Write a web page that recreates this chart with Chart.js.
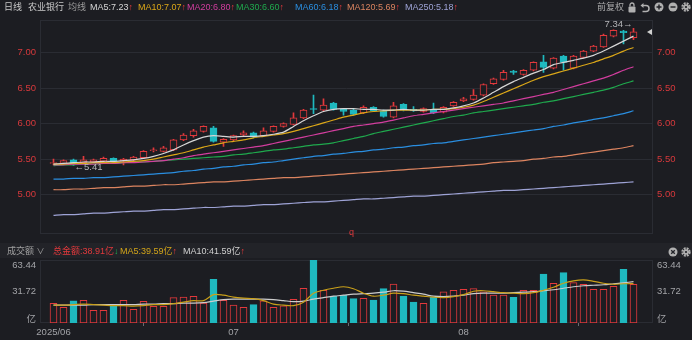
<!DOCTYPE html>
<html>
<head>
<meta charset="utf-8">
<script src="https://cdn.jsdelivr.net/npm/chart.js@4.4.1/dist/chart.umd.min.js"></script>
<style>
  body { margin:0; background:#1c1d22; width:692px; height:340px; overflow:hidden; position:relative;
         font-family:"Liberation Sans","Noto Sans CJK SC",sans-serif; }
  .t { position:absolute; font-size:9px; line-height:12px; white-space:nowrap; }
  .up { color:#e3393c; }
  .dn { color:#1fae4f; }
  canvas { position:absolute; left:0; }
  #kline { top:0; }
  #vol { top:256px; }
  #volbar { position:absolute; left:0; top:243px; width:692px; height:15px; background:#222328; }
  svg { position:absolute; }
</style>
</head>
<body>
<div id="volbar"></div>
<canvas id="kline" width="692" height="244"></canvas>
<canvas id="vol" width="692" height="84"></canvas>
<div id="labels"></div>

<script>
// daily candles, Jun - Aug
var opens = [5.44,5.44,5.49,5.45,5.46,5.47,5.51,5.47,5.49,5.52,
             5.62,5.61,5.63,5.77,5.83,5.89,5.94,5.74,5.77,5.84,
             5.87,5.83,5.89,5.96,5.99,6.08,6.21,6.19,6.29,6.20,
             6.19,6.15,6.23,6.18,6.09,6.27,6.20,6.17,6.20,6.16,
             6.25,6.32,6.34,6.40,6.56,6.62,6.74,6.69,6.75,6.87,
             6.78,6.95,6.78,6.93,7.02,7.08,7.23,7.30,7.21];
var highs = [5.50,5.49,5.50,5.54,5.50,5.53,5.52,5.51,5.54,5.62,
             5.66,5.68,5.78,5.86,5.92,5.97,5.96,5.79,5.84,5.90,
             5.88,5.94,5.97,6.01,6.15,6.20,6.40,6.35,6.30,6.21,
             6.20,6.25,6.24,6.19,6.30,6.28,6.24,6.22,6.29,6.24,
             6.31,6.37,6.48,6.56,6.64,6.75,6.75,6.76,6.87,6.96,
             6.93,6.96,6.96,7.03,7.10,7.26,7.32,7.31,7.34];
var lows = [5.42,5.43,5.41,5.44,5.45,5.46,5.46,5.42,5.48,5.51,
            5.60,5.60,5.62,5.76,5.81,5.88,5.74,5.68,5.76,5.83,
            5.80,5.82,5.88,5.95,5.98,6.07,6.14,6.18,6.19,6.12,
            6.12,6.14,6.17,6.09,6.08,6.18,6.17,6.16,6.14,6.15,
            6.24,6.31,6.33,6.39,6.55,6.61,6.69,6.68,6.74,6.72,
            6.77,6.75,6.77,6.92,7.01,7.07,7.22,7.12,7.18];
var closes = [5.45,5.48,5.45,5.49,5.49,5.51,5.47,5.50,5.53,5.61,
              5.63,5.66,5.77,5.84,5.90,5.96,5.75,5.78,5.83,5.87,
              5.81,5.90,5.96,6.00,6.08,6.19,6.20,6.26,6.20,6.17,
              6.13,6.23,6.18,6.10,6.25,6.19,6.18,6.21,6.15,6.23,
              6.30,6.35,6.40,6.55,6.63,6.72,6.72,6.75,6.86,6.79,
              6.92,6.86,6.95,7.02,7.09,7.24,7.31,7.28,7.29];

// turnover, 亿
var volumes = [19.8,15.8,22.2,22.8,12.8,12.8,17.4,22.8,13.8,21.8,
               16.8,16.8,25.5,26.2,26.9,20.1,44.0,22.8,18.1,15.8,
               18.5,22.2,15.8,17.4,23.9,34.9,63.44,32.9,27.2,27.9,
               24.5,24.8,23.2,34.6,39.3,27.2,21.1,19.8,25.9,31.5,
               32.9,33.9,34.6,31.5,28.2,28.2,25.9,32.9,32.9,49.3,
               40.0,50.7,40.6,39.0,33.9,33.9,37.0,54.1,38.91];

// moving averages
var ma5 = [5.43,5.44,5.45,5.46,5.46,5.47,5.47,5.48,5.49,5.51,
           5.54,5.58,5.63,5.70,5.76,5.81,5.83,5.82,5.81,5.82,
           5.82,5.83,5.85,5.88,5.96,6.04,6.11,6.17,6.20,6.21,
           6.21,6.20,6.20,6.19,6.19,6.20,6.19,6.19,6.20,6.20,
           6.22,6.25,6.29,6.36,6.44,6.52,6.59,6.65,6.71,6.76,
           6.83,6.86,6.89,6.92,6.96,7.02,7.09,7.16,7.23];
var ma10 = [5.43,5.43,5.44,5.44,5.45,5.45,5.45,5.46,5.47,5.48,
            5.50,5.53,5.56,5.59,5.63,5.67,5.70,5.73,5.75,5.77,
            5.80,5.82,5.84,5.86,5.89,5.93,5.97,6.01,6.05,6.09,
            6.12,6.15,6.17,6.18,6.19,6.19,6.19,6.19,6.20,6.20,
            6.21,6.23,6.26,6.31,6.37,6.43,6.49,6.55,6.61,6.66,
            6.70,6.74,6.78,6.82,6.86,6.91,6.96,7.02,7.07];
var ma20 = [5.42,5.42,5.43,5.43,5.43,5.44,5.44,5.45,5.45,5.46,
            5.47,5.48,5.50,5.52,5.55,5.57,5.59,5.61,5.63,5.65,
            5.67,5.69,5.72,5.75,5.78,5.81,5.84,5.87,5.90,5.93,
            5.96,5.98,6.00,6.02,6.05,6.08,6.11,6.13,6.15,6.17,
            6.19,6.21,6.23,6.25,6.27,6.29,6.32,6.35,6.38,6.41,
            6.44,6.48,6.52,6.56,6.60,6.64,6.69,6.75,6.80];
var ma30 = [5.41,5.42,5.42,5.43,5.43,5.44,5.44,5.45,5.46,5.46,
            5.47,5.48,5.49,5.50,5.51,5.52,5.53,5.54,5.56,5.57,
            5.59,5.61,5.63,5.64,5.66,5.68,5.70,5.71,5.73,5.76,
            5.79,5.82,5.86,5.89,5.92,5.95,5.98,6.01,6.04,6.07,
            6.10,6.12,6.15,6.17,6.19,6.21,6.23,6.25,6.27,6.30,
            6.32,6.35,6.38,6.41,6.44,6.47,6.51,6.56,6.60];
var ma60 = [5.22,5.22,5.23,5.23,5.24,5.24,5.25,5.26,5.27,5.28,
            5.29,5.30,5.31,5.33,5.34,5.36,5.37,5.39,5.40,5.42,
            5.43,5.45,5.46,5.48,5.50,5.52,5.54,5.55,5.57,5.58,
            5.60,5.61,5.63,5.64,5.66,5.67,5.69,5.70,5.72,5.73,
            5.75,5.77,5.79,5.81,5.83,5.85,5.87,5.89,5.91,5.93,
            5.96,5.98,6.01,6.03,6.06,6.08,6.11,6.14,6.18];
var ma120 = [5.07,5.07,5.08,5.08,5.09,5.10,5.10,5.11,5.12,5.12,
             5.13,5.14,5.14,5.15,5.16,5.17,5.18,5.18,5.19,5.20,
             5.21,5.22,5.23,5.24,5.24,5.25,5.26,5.27,5.28,5.29,
             5.30,5.31,5.32,5.33,5.34,5.35,5.36,5.37,5.38,5.39,
             5.40,5.41,5.42,5.43,5.45,5.46,5.47,5.48,5.50,5.51,
             5.53,5.54,5.56,5.58,5.60,5.62,5.64,5.66,5.69];
var ma250 = [4.71,4.72,4.72,4.73,4.74,4.74,4.75,4.76,4.77,4.77,
             4.78,4.79,4.79,4.80,4.81,4.82,4.82,4.83,4.84,4.84,
             4.85,4.86,4.86,4.87,4.88,4.89,4.90,4.90,4.91,4.92,
             4.93,4.94,4.94,4.95,4.96,4.97,4.98,4.98,4.99,5.00,
             5.01,5.02,5.03,5.04,5.05,5.06,5.06,5.07,5.08,5.09,
             5.10,5.11,5.12,5.13,5.14,5.15,5.16,5.17,5.18];
var volMa5 = [18,18,18.5,19,18.5,18,17.5,17.5,17,17.5,
              18.5,18.5,19.5,21,22.5,22.5,28.5,28,26,25,
              24.5,22.5,19,18,17.5,21,30,33,35,36.5,
              34.5,30,27,28,30,29.5,28,27,26,25.5,
              26.5,28.5,32,32.5,31.5,30.5,30,29.5,30.5,33,
              36,40,42.5,43.5,42,40,39,39.5,39.59];
var volMa10 = [18,18,18,18,18.5,18.5,18.5,18.5,18.5,19,
               19,19.5,19.5,20,20,20.5,22,23.5,24,24,
               24,24,23.5,22.5,21.5,22,24,25.5,27,28,
               29,29.5,30,31,32.5,32,30.5,29,27,26.5,
               27,28,29.5,30,30,30,30.5,31,31.5,32.5,
               33.5,35,36.5,37.5,38,38.5,39.5,40.5,41.59];

var priceTicks = [5.00, 5.50, 6.00, 6.50, 7.00];
var volTicks = [0, 31.72, 63.44];
var monthIdx = [0, 18, 41];
var monthText = ['2025/06', '07', '08'];

var upColor = '#e3393c';
var downColor = '#1fb9bf';
var bgColor = '#1c1d22';
var gridColor = '#2a2c33';
var axisText = '#a3a4a8';
var FONT = '"Liberation Sans","Noto Sans CJK SC",sans-serif';

var maLines = [
    {name: 'MA5', data: ma5, color: '#d6d6d6'},
    {name: 'MA10', data: ma10, color: '#dba718'},
    {name: 'MA20', data: ma20, color: '#d23d9e'},
    {name: 'MA30', data: ma30, color: '#1fa94d'},
    {name: 'MA60', data: ma60, color: '#2a8ee0'},
    {name: 'MA120', data: ma120, color: '#dc8460'},
    {name: 'MA250', data: ma250, color: '#9ea3d6'}
];

var xMin = -1.35, xMax = 59.95;
var isUp = closes.map(function (c, i) { return c >= opens[i]; });
function pts(arr) { return arr.map(function (v, i) { return {x: i, y: v}; }); }
function last(arr) { return arr[arr.length - 1]; }

// header rows
function addText(txt, left, top, color, extra) {
    var d = document.createElement('div');
    d.className = 't';
    d.style.left = left + 'px';
    d.style.top = top + 'px';
    d.style.color = color;
    d.innerHTML = txt + (extra || '');
    document.getElementById('labels').appendChild(d);
}
var arrowUp = '<span class="up">↑</span>';
addText('日线', 4, 1, '#c8c8c8');
addText('农业银行', 28, 1, '#c8c8c8');
addText('均线', 68, 1, '#9a9a9a');
var maLeft = [90, 138, 187, 236, 295, 347, 405];
maLines.forEach(function (m, i) {
    addText(m.name + ':' + last(m.data).toFixed(2), maLeft[i], 1, m.color, arrowUp);
});
addText('前复权', 597, 1, '#aaaaab');

addText('成交额 <span style="font-size:8px">∨</span>', 7, 245, '#a0a0a0');
addText('总金额:' + last(volumes).toFixed(2) + '亿', 53, 245, '#e3393c', '<span class="dn">↓</span>');
addText('MA5:' + last(volMa5).toFixed(2) + '亿', 120, 245, '#d2a419', arrowUp);
addText('MA10:' + last(volMa10).toFixed(2) + '亿', 183, 245, '#cfcfcf', arrowUp);
addText('q', 349, 226, '#e3393c');

// price panel extras: frame, high/low marks, last price pointer
var framePlugin = {
    id: 'frame',
    beforeDraw: function (chart) {
        var a = chart.chartArea, ctx = chart.ctx;
        ctx.save();
        ctx.strokeStyle = gridColor;
        ctx.lineWidth = 1;
        ctx.strokeRect(Math.round(a.left) + 0.5, Math.round(a.top) + 0.5,
            Math.round(a.right - a.left) - 1, Math.round(a.bottom - a.top) - 1);
        ctx.restore();
    }
};

var markPlugin = {
    id: 'marks',
    afterDraw: function (chart) {
        var ctx = chart.ctx, xs = chart.scales.x, ys = chart.scales.y;
        var hi = Math.max.apply(null, highs), lo = Math.min.apply(null, lows);
        var hiIdx = highs.indexOf(hi), loIdx = lows.indexOf(lo);
        ctx.save();
        ctx.font = '9.5px ' + FONT;
        ctx.fillStyle = '#b4b5b8';
        ctx.textBaseline = 'middle';
        ctx.textAlign = 'right';
        ctx.fillText(hi.toFixed(2) + '→', xs.getPixelForValue(hiIdx) - 1, ys.getPixelForValue(hi) - 4);
        ctx.textAlign = 'left';
        ctx.fillText('←' + lo.toFixed(2), xs.getPixelForValue(loIdx) + 1, ys.getPixelForValue(lo) + 2);
        // last close pointer
        var yl = Math.round(ys.getPixelForValue(last(closes)));
        var xr = chart.chartArea.right - 1;
        ctx.fillStyle = '#d0d0d0';
        ctx.beginPath();
        ctx.moveTo(xr - 5, yl);
        ctx.lineTo(xr, yl - 3);
        ctx.lineTo(xr, yl + 3);
        ctx.closePath();
        ctx.fill();
        ctx.restore();
    }
};

var priceAxis = function (pos) {
    return {
        position: pos,
        min: 4.443,
        max: 7.457,
        afterFit: function (s) { s.width = pos === 'left' ? 40 : 39; },
        afterBuildTicks: function (s) { s.ticks = priceTicks.map(function (v) { return {value: v}; }); },
        ticks: {color: '#d8393c', font: {size: 9.5, family: FONT}, padding: 4,
                callback: function (v) { return Number(v).toFixed(2); }},
        grid: {display: pos === 'left', color: gridColor, drawTicks: false},
        border: {display: false}
    };
};

var klineSets = maLines.map(function (m) {
    return {type: 'line', data: pts(m.data), borderColor: m.color, borderWidth: 1.2,
            pointRadius: 0, tension: 0.25, order: -1};
});
klineSets.push({
    label: 'body',
    data: opens.map(function (o, i) { return {x: i, y: [o, closes[i]]}; }),
    backgroundColor: isUp.map(function (u) { return u ? bgColor : downColor; }),
    borderColor: isUp.map(function (u) { return u ? upColor : downColor; }),
    borderWidth: 1, borderSkipped: false, barThickness: 7, grouped: false, order: 0
});
klineSets.push({
    label: 'wick',
    data: lows.map(function (l, i) { return {x: i, y: [l, highs[i]]}; }),
    backgroundColor: isUp.map(function (u) { return u ? upColor : downColor; }),
    barThickness: 1, grouped: false, order: 1
});

new Chart(document.getElementById('kline'), {
    type: 'bar',
    data: {datasets: klineSets},
    options: {
        responsive: false, animation: false, events: [],
        layout: {padding: {top: 20, bottom: 4}},
        plugins: {legend: {display: false}, tooltip: {enabled: false}},
        scales: {
            x: {type: 'linear', min: xMin, max: xMax, offset: false, display: false},
            y: priceAxis('left'),
            y2: priceAxis('right')
        }
    },
    plugins: [framePlugin, markPlugin]
});

// turnover panel
var volLabelPlugin = {
    id: 'volLabels',
    afterDraw: function (chart) {
        var ctx = chart.ctx, ys = chart.scales.y, a = chart.chartArea;
        ctx.save();
        ctx.font = '9.5px ' + FONT;
        ctx.fillStyle = axisText;
        ctx.textBaseline = 'middle';
        volTicks.forEach(function (v) {
            var y = ys.getPixelForValue(v);
            var txt = v === 0 ? '亿' : v.toFixed(2);
            if (v === last(volTicks)) y += 5;
            if (v === 0) y -= 4;
            ctx.textAlign = 'right';
            ctx.fillText(txt, a.left - 4, y);
            ctx.textAlign = 'left';
            ctx.fillText(txt, a.right + 4, y);
        });
        ctx.restore();
    }
};

new Chart(document.getElementById('vol'), {
    type: 'bar',
    data: {datasets: [
        {type: 'line', data: pts(volMa5), borderColor: '#c9a01a', borderWidth: 1.2,
         pointRadius: 0, tension: 0.3, order: -1},
        {type: 'line', data: pts(volMa10), borderColor: '#cdcdcd', borderWidth: 1.2,
         pointRadius: 0, tension: 0.3, order: -1},
        {data: pts(volumes),
         backgroundColor: isUp.map(function (u) { return u ? bgColor : downColor; }),
         borderColor: isUp.map(function (u) { return u ? upColor : downColor; }),
         borderWidth: 1, borderSkipped: false, barThickness: 7, order: 0}
    ]},
    options: {
        responsive: false, animation: false, events: [],
        layout: {padding: {top: 4}},
        plugins: {legend: {display: false}, tooltip: {enabled: false}},
        scales: {
            x: {type: 'linear', min: xMin, max: xMax, offset: false,
                afterFit: function (s) { s.height = 17; },
                afterBuildTicks: function (s) { s.ticks = monthIdx.map(function (v) { return {value: v}; }); },
                ticks: {color: axisText, font: {size: 9.5, family: FONT}, padding: 1, maxRotation: 0,
                        callback: function (v) { return monthText[monthIdx.indexOf(v)]; }},
                grid: {drawOnChartArea: false, drawTicks: true, tickLength: 3, color: '#6a6b70'},
                border: {display: false}},
            y: {min: 0, max: 63.44, afterFit: function (s) { s.width = 40; },
                ticks: {display: false}, grid: {display: false}, border: {display: false}},
            y2: {position: 'right', min: 0, max: 63.44, afterFit: function (s) { s.width = 39; },
                 ticks: {display: false}, grid: {display: false}, border: {display: false}}
        }
    },
    plugins: [framePlugin, volLabelPlugin]
});
</script>

<!-- toolbar icons -->
<svg style="left:627px;top:2px" width="10" height="11" viewBox="0 0 10 11">
  <rect x="1.5" y="4.5" width="7" height="6" rx="1" fill="#b0b0b0"/>
  <path d="M3 4.5V3a2 2 0 0 1 4 0v1.5" fill="none" stroke="#b0b0b0" stroke-width="1.3"/>
</svg>
<svg style="left:640px;top:2px" width="10" height="11" viewBox="0 0 10 11">
  <path d="M2.5 3.5H6a3 3 0 0 1 0 6H2.5" fill="none" stroke="#b0b0b0" stroke-width="1.5"/>
  <path d="M0.5 3.5L3.5 1V6z" fill="#b0b0b0"/>
</svg>
<svg style="left:654px;top:2px" width="10" height="10" viewBox="0 0 10 10">
  <circle cx="5" cy="5" r="4.5" fill="#b0b0b0"/>
  <path d="M2.5 5h5M5 2.5v5" stroke="#1c1d22" stroke-width="1.4"/>
</svg>
<svg style="left:668px;top:2px" width="10" height="10" viewBox="0 0 10 10">
  <circle cx="5" cy="5" r="4.5" fill="#b0b0b0"/>
  <path d="M2.5 5h5" stroke="#1c1d22" stroke-width="1.4"/>
</svg>
<svg style="left:681px;top:2px" width="10" height="10" viewBox="0 0 10 10">
  <circle cx="5" cy="5" r="3.4" fill="none" stroke="#b0b0b0" stroke-width="2.6" stroke-dasharray="1.8 0.9"/>
  <circle cx="5" cy="5" r="2.6" fill="#b0b0b0"/>
  <circle cx="5" cy="5" r="1.1" fill="#1c1d22"/>
</svg>
<svg style="left:668px;top:247px" width="10" height="10" viewBox="0 0 10 10">
  <circle cx="5" cy="5" r="4.5" fill="#b0b0b0"/>
  <path d="M3.2 3.2l3.6 3.6M6.8 3.2l-3.6 3.6" stroke="#222328" stroke-width="1.3"/>
</svg>
<svg style="left:681px;top:247px" width="10" height="10" viewBox="0 0 10 10">
  <circle cx="5" cy="5" r="3.4" fill="none" stroke="#b0b0b0" stroke-width="2.6" stroke-dasharray="1.8 0.9"/>
  <circle cx="5" cy="5" r="2.6" fill="#b0b0b0"/>
  <circle cx="5" cy="5" r="1.1" fill="#222328"/>
</svg>
</body>
</html>
